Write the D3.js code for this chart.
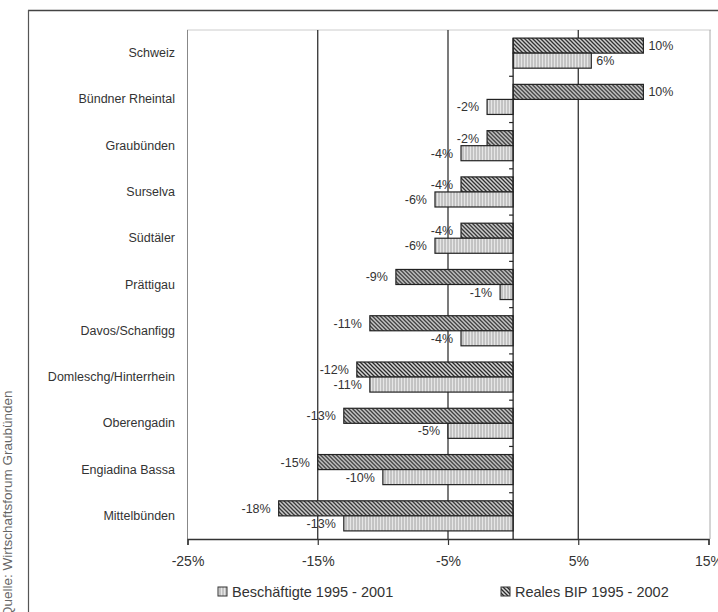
<!DOCTYPE html>
<html lang="de">
<head>
<meta charset="UTF-8">
<title>BIP und Beschäftigte</title>
<script src="https://cdn.jsdelivr.net/npm/d3@7"></script>
<style>
  body { margin: 0; background: #fff; }
  text { font-family: "Liberation Sans", Arial, sans-serif; fill: #333; }
</style>
</head>
<body>
<div id="chart"></div>
<script>
// data, top to bottom as in the chart
var regions = ["Schweiz", "Bündner Rheintal", "Graubünden", "Surselva", "Südtäler",
  "Prättigau", "Davos/Schanfigg", "Domleschg/Hinterrhein", "Oberengadin",
  "Engiadina Bassa", "Mittelbünden"];
var bip = [10, 10, -2, -4, -4, -9, -11, -12, -13, -15, -18];        // Reales BIP 1995 - 2002
var besch = [6, -2, -4, -6, -6, -1, -4, -11, -5, -10, -13];         // Beschäftigte 1995 - 2001
var xTicks = [-25, -15, -5, 5, 15];
var seriesNames = ["Beschäftigte 1995 - 2001", "Reales BIP 1995 - 2002"];

var W = 718, H = 612;
var pLeft = 187.5, pRight = 708.5, pTop = 30, pBottom = 539;

var svg = d3.select("#chart").append("svg")
  .attr("width", W).attr("height", H);

var defs = svg.append("defs");
// dark diagonal hatch for BIP
var ph = defs.append("pattern").attr("id", "hatch")
  .attr("patternUnits", "userSpaceOnUse").attr("width", 4).attr("height", 4);
ph.append("rect").attr("width", 4).attr("height", 4).attr("fill", "#d8d8d8");
ph.append("path").attr("d", "M-1,-1 L5,5 M-1,3 L1,5 M3,-1 L5,1")
  .attr("stroke", "#2a2a2a").attr("stroke-width", 1.3);
// light vertical stripes for Beschäftigte
var pv = defs.append("pattern").attr("id", "vstripe")
  .attr("patternUnits", "userSpaceOnUse").attr("width", 3).attr("height", 4);
pv.append("rect").attr("width", 3).attr("height", 4).attr("fill", "#e6e6e6");
pv.append("line").attr("x1", 1).attr("x2", 1).attr("y1", 0).attr("y2", 4)
  .attr("stroke", "#9a9a9a").attr("stroke-width", 0.9);

var x = d3.scaleLinear().domain([-25, 15]).range([pLeft, pRight]);
var y = d3.scaleBand().domain(regions).range([pTop, pBottom])
  .paddingInner(0.35).paddingOuter(0.175);
var sub = d3.scaleBand().domain(["bip", "besch"]).range([0, y.bandwidth()]);

// outer frame (top and left edges)
svg.append("line").attr("x1", 28).attr("x2", W).attr("y1", 10.5).attr("y2", 10.5)
  .attr("stroke", "#444").attr("stroke-width", 1.5);
svg.append("line").attr("x1", 28.5).attr("x2", 28.5).attr("y1", 10).attr("y2", H)
  .attr("stroke", "#555").attr("stroke-width", 1.2);

// plot area border
svg.append("line").attr("x1", pLeft).attr("x2", pRight + 2).attr("y1", pTop).attr("y2", pTop)
  .attr("stroke", "#999").attr("stroke-dasharray", "1,1");
svg.append("line").attr("x1", pLeft).attr("x2", pLeft).attr("y1", pTop).attr("y2", pBottom)
  .attr("stroke", "#888");
svg.append("line").attr("x1", pRight + 1.5).attr("x2", pRight + 1.5).attr("y1", pTop).attr("y2", pBottom)
  .attr("stroke", "#aaa");

// vertical gridlines
svg.append("g").selectAll("line").data([-15, -5, 5]).enter().append("line")
  .attr("x1", function(d) { return x(d); }).attr("x2", function(d) { return x(d); })
  .attr("y1", pTop).attr("y2", pBottom)
  .attr("stroke", "#222").attr("stroke-width", 1.2);

// x axis
var xAxis = svg.append("g").attr("transform", "translate(0," + pBottom + ")")
  .call(d3.axisBottom(x).tickValues(xTicks).tickSize(6).tickPadding(11)
    .tickFormat(function(d) { return d + "%"; }));
xAxis.select(".domain").attr("stroke", "#333").attr("stroke-width", 1.3);
xAxis.selectAll(".tick line").attr("stroke", "#333").attr("stroke-width", 1.2);
xAxis.selectAll("text").style("font-size", "14px").style("font-family", "Liberation Sans, Arial, sans-serif")
  .attr("fill", "#333");

// category labels
svg.append("g").selectAll("text").data(regions).enter().append("text")
  .attr("x", 175)
  .attr("y", function(d) { return y(d) + y.bandwidth() / 2 + 4; })
  .attr("text-anchor", "end")
  .style("font-size", "12.5px")
  .text(function(d) { return d; });

// bars
var rows = regions.map(function(r, i) { return { region: r, bip: bip[i], besch: besch[i] }; });
var groups = svg.append("g").selectAll("g").data(rows).enter().append("g")
  .attr("transform", function(d) { return "translate(0," + y(d.region) + ")"; });

[["bip", "url(#hatch)"], ["besch", "url(#vstripe)"]].forEach(function(s) {
  var key = s[0];
  groups.append("rect")
    .attr("x", function(d) { return x(Math.min(0, d[key])); })
    .attr("y", sub(key))
    .attr("width", function(d) { return Math.abs(x(d[key]) - x(0)); })
    .attr("height", sub.bandwidth())
    .attr("fill", s[1])
    .attr("stroke", "#222").attr("stroke-width", 1.2);
  groups.append("text")
    .attr("x", function(d) { return d[key] >= 0 ? x(d[key]) + 5 : x(d[key]) - 8; })
    .attr("y", sub(key) + sub.bandwidth() / 2 + 4.5)
    .attr("text-anchor", function(d) { return d[key] >= 0 ? "start" : "end"; })
    .style("font-size", "12.5px")
    .text(function(d) { return d[key] + "%"; });
});

// category axis at zero
svg.append("line").attr("x1", x(0)).attr("x2", x(0)).attr("y1", pTop + 8).attr("y2", pBottom)
  .attr("stroke", "#222").attr("stroke-width", 1.3);
var bounds = d3.range(1, regions.length).map(function(i) { return y(regions[i]) - y.step() * y.paddingInner() / 2; });
svg.append("g").selectAll("line").data(bounds).enter().append("line")
  .attr("x1", x(0) - 4).attr("x2", x(0))
  .attr("y1", function(d) { return d; }).attr("y2", function(d) { return d; })
  .attr("stroke", "#222").attr("stroke-width", 1.2);

// legend
var legend = svg.append("g");
var legX = [218, 501];
var legFill = ["url(#vstripe)", "url(#hatch)"];
seriesNames.forEach(function(name, i) {
  legend.append("rect").attr("x", legX[i]).attr("y", 587).attr("width", 9).attr("height", 9)
    .attr("fill", legFill[i]).attr("stroke", "#333");
  legend.append("text").attr("x", legX[i] + 14).attr("y", 597)
    .style("font-size", "14.5px").text(name);
});

// source
svg.append("text")
  .attr("transform", "translate(12,617) rotate(-90)")
  .style("font-size", "13.5px").style("fill", "#666")
  .text("Quelle: Wirtschaftsforum Graubünden");
</script>
</body>
</html>
